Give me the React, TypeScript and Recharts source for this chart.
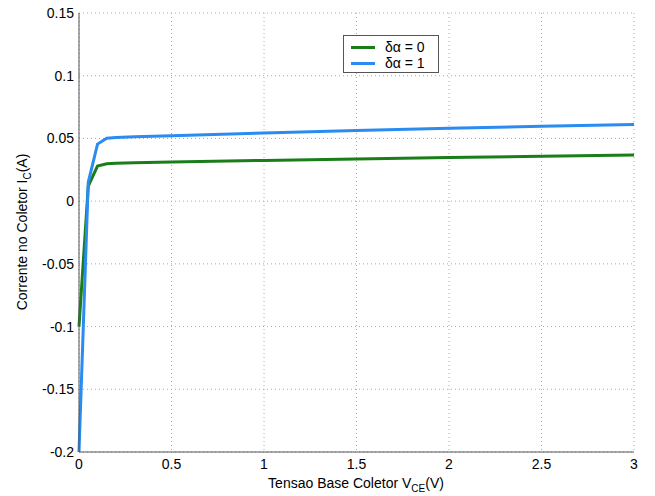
import React from 'react';
import { LineChart, Line, XAxis, YAxis, CartesianGrid } from 'recharts';

const vce = [0, 0.05, 0.1, 0.15, 0.2, 0.3, 0.5, 1, 1.5, 2, 2.5, 3];
const icDelta0 = [-0.1, 0.012, 0.028, 0.0298, 0.0302, 0.0306, 0.0312, 0.0325, 0.0336, 0.0347, 0.0357, 0.0367];
const icDelta1 = [-0.2, 0.015, 0.0455, 0.0502, 0.0508, 0.0513, 0.0521, 0.0543, 0.0563, 0.0582, 0.0597, 0.0612];
const xTicks = [0, 0.5, 1, 1.5, 2, 2.5, 3];
const yTicks = [-0.2, -0.15, -0.1, -0.05, 0, 0.05, 0.1, 0.15];
const seriesNames = ['δα = 0', 'δα = 1'];
const colors = ['#1a7d1a', '#2a8cf0'];

const data = vce.map((x, i) => ({ x, a: icDelta0[i], b: icDelta1[i] }));

const FONT = 'Liberation Sans, Arial, sans-serif';

const XLabel = () => (
  <text x={356} y={488} textAnchor="middle" fontFamily={FONT} fontSize={14} fill="#000">
    Tensao Base Coletor V<tspan dy={4} fontSize={10}>CE</tspan><tspan dy={-4}>(V)</tspan>
  </text>
);

const YLabel = () => (
  <text x={0} y={0} transform="translate(27,232) rotate(-90)" textAnchor="middle" fontFamily={FONT} fontSize={14} fill="#000">
    Corrente no Coletor I<tspan dy={4} fontSize={10}>C</tspan><tspan dy={-4}>(A)</tspan>
  </text>
);

const fmt = (v: number) => String(v);

const LegendBox = () => (
  <div style={{ position: 'absolute', left: 343, top: 35, width: 96, height: 38, border: '1px solid #555', background: '#fff', fontFamily: FONT, fontSize: 14, boxSizing: 'border-box', padding: '3px 0 0 7px', lineHeight: '16px' }}>
    {seriesNames.map((n, i) => (
      <div key={n} style={{ display: 'flex', alignItems: 'center', height: 16 }}>
        <div style={{ width: 24, height: 3, background: colors[i], marginRight: 10 }} />
        <span>{n}</span>
      </div>
    ))}
  </div>
);

export default function App() {
  return (
    <div style={{ position: 'absolute', left: 0, top: 0, width: 655, height: 496, background: '#fff' }}>
      <LineChart width={655} height={496} data={data} margin={{ top: 13, right: 21, bottom: 14, left: 19 }}>
        <CartesianGrid stroke="#aaa" strokeDasharray="1 3" />
        <XAxis
          dataKey="x"
          type="number"
          domain={[0, 3]}
          ticks={xTicks}
          tickFormatter={fmt}
          stroke="#555"
          tickLine={false}
          tickSize={0}
          tickMargin={7}
          height={30}
          tick={{ fontFamily: FONT, fontSize: 14, fill: '#000' }}
          label={<XLabel />}
        />
        <XAxis xAxisId="top" orientation="top" dataKey="x" type="number" domain={[0, 3]} ticks={xTicks} tick={false} tickLine={false} stroke="#555" height={0} />
        <YAxis
          type="number"
          domain={[-0.2, 0.15]}
          ticks={yTicks}
          tickFormatter={fmt}
          stroke="#555"
          tickLine={false}
          tickSize={0}
          tickMargin={5}
          width={60}
          allowDataOverflow
          tick={{ fontFamily: FONT, fontSize: 14, fill: '#000' }}
          label={<YLabel />}
        />
        <YAxis yAxisId="right" orientation="right" domain={[-0.2, 0.15]} tick={false} tickLine={false} stroke="#555" width={0} />
        <Line dataKey="a" name={seriesNames[0]} stroke={colors[0]} strokeWidth={3} dot={false} isAnimationActive={false} type="linear" />
        <Line dataKey="b" name={seriesNames[1]} stroke={colors[1]} strokeWidth={3} dot={false} isAnimationActive={false} type="linear" />
      </LineChart>
      <LegendBox />
    </div>
  );
}
